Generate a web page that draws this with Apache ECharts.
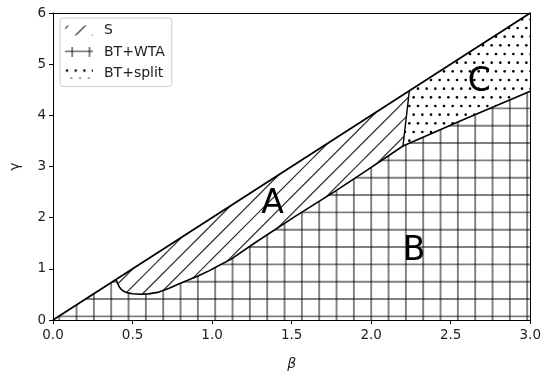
<!DOCTYPE html>
<html><head><meta charset="utf-8">
<script src="https://cdn.jsdelivr.net/npm/echarts@6/dist/echarts.min.js"></script>
<style>html,body{margin:0;padding:0;background:#fff}#c{width:544px;height:376px}</style>
</head><body><div id="c"></div>
<script>
// ---- data ----
const diagBeta = [0, 3];
const diagGamma = [0, 6];
const curveBeta  = [0.396, 0.403, 0.410, 0.417, 0.430, 0.448, 0.470, 0.500, 0.550, 0.600, 0.666, 0.730, 0.790, 0.850, 0.915, 0.980, 1.040, 1.120, 1.270, 1.520, 1.765, 1.970, 2.200, 2.574, 3.000];
const curveGamma = [0.792, 0.740, 0.690, 0.645, 0.595, 0.557, 0.530, 0.512, 0.503, 0.510, 0.545, 0.620, 0.705, 0.780, 0.865, 0.960, 1.060, 1.190, 1.510, 2.020, 2.500, 2.920, 3.400, 3.910, 4.470];
const splitEdgeBeta  = [2.240, 2.200];
const splitEdgeGamma = [4.480, 3.400];
const regionNames = ['S', 'BT+WTA', 'BT+split'];
const regionLetters = ['A', 'B', 'C'];
const letterBeta  = [1.38, 2.27, 2.68];
const letterGamma = [2.26, 1.35, 4.65];
const xTickStep = 0.5, yTickStep = 1;

// ---- polygons built from the arrays ----
const curvePts = curveBeta.map((b, i) => [b, curveGamma[i]]);
const splitIdx = curveBeta.indexOf(splitEdgeBeta[1]);
const polyA = [[curveBeta[0], curveGamma[0]], [splitEdgeBeta[0], splitEdgeGamma[0]], [splitEdgeBeta[1], splitEdgeGamma[1]]]
  .concat(curvePts.slice(0, splitIdx).reverse());
const polyB = [[diagBeta[0], diagGamma[0]]].concat(curvePts).concat([[diagBeta[1], 0]]);
const polyC = [[splitEdgeBeta[0], splitEdgeGamma[0]], [diagBeta[1], diagGamma[1]]]
  .concat(curvePts.slice(splitIdx).reverse());
const polys = [polyA, polyB, polyC];

// ---- hatch patterns ----
const S = 52 / 3;
function tile(draw) { const c = document.createElement('canvas'); c.width = 52; c.height = 52; const g = c.getContext('2d'); draw(g); return c; }
const slashTile = tile(g => {
  g.strokeStyle = 'rgba(0,0,0,0.85)'; g.lineWidth = 1.2;
  for (let k = -2; k < 8; k++) { const c = 3 + k * S; g.beginPath(); g.moveTo(c + 10, -10); g.lineTo(c - 62, 62); g.stroke(); }
});
const gridTile = tile(g => {
  g.strokeStyle = 'rgba(0,0,0,0.5)'; g.lineWidth = 1.9;
  for (let k = 0; k < 3; k++) { const x = 7.2 + k * S; g.beginPath(); g.moveTo(x, 0); g.lineTo(x, 52); g.stroke(); }
  for (let k = 0; k < 3; k++) { const y = 4.4 + k * S; g.beginPath(); g.moveTo(0, y); g.lineTo(52, y); g.stroke(); }
});
const dotTile = tile(g => {
  g.fillStyle = '#000';
  for (let r = 0; r < 6; r++) for (let c = -1; c < 7; c++) {
    const x = 2 + c * S / 2 + (r % 2 ? S / 4 : 0), y = 2 + r * S / 2;
    g.beginPath(); g.arc(x, y, 1.3, 0, Math.PI * 2); g.fill();
  }
});
const pats = [slashTile, gridTile, dotTile].map(im => ({ image: im, repeat: 'repeat' }));

const FONT = 'DejaVu Sans';
const chart = echarts.init(document.getElementById('c'), null, { renderer: 'canvas' });

const regionSeries = polys.map((poly, i) => ({
  type: 'custom', name: regionNames[i], data: [[0, 0]], z: 2,
  renderItem: (params, api) => ({
    type: 'polygon',
    shape: { points: poly.map(p => api.coord(p)) },
    style: { fill: pats[i], stroke: null }
  })
}));

chart.setOption({
  animation: false,
  grid: { left: 53, right: 9, top: 13, bottom: 51 },
  xAxis: [{
    type: 'value', min: 0, max: 3, interval: xTickStep, z: 10,
    axisLine: { show: true, lineStyle: { color: '#000', width: 1 } },
    axisTick: { show: true, length: 4, lineStyle: { color: '#000' } },
    axisLabel: { color: '#222', fontFamily: FONT, fontSize: 13.5, margin: 8, formatter: v => v.toFixed(1) },
    splitLine: { show: false },
    name: 'β', nameLocation: 'middle', nameGap: 37,
    nameTextStyle: { fontFamily: FONT, fontStyle: 'italic', fontSize: 14, color: '#222' }
  }, {
    type: 'value', min: 0, max: 3, position: 'top', z: 10,
    axisLine: { show: true, onZero: false, lineStyle: { color: '#000', width: 1 } },
    axisTick: { show: false }, axisLabel: { show: false }, splitLine: { show: false }
  }],
  yAxis: [{
    type: 'value', min: 0, max: 6, interval: yTickStep, z: 10,
    axisLine: { show: true, lineStyle: { color: '#000', width: 1 } },
    axisTick: { show: true, length: 4, lineStyle: { color: '#000' } },
    axisLabel: { color: '#222', fontFamily: FONT, fontSize: 13.5, margin: 7 },
    splitLine: { show: false },
    name: 'γ', nameLocation: 'middle', nameGap: 31,
    nameTextStyle: { fontFamily: FONT, fontSize: 14, color: '#222' }
  }, {
    type: 'value', min: 0, max: 6, position: 'right', z: 10,
    axisLine: { show: true, onZero: false, lineStyle: { color: '#000', width: 1 } },
    axisTick: { show: false }, axisLabel: { show: false }, splitLine: { show: false }
  }],
  legend: {
    left: 60, top: 18, orient: 'vertical',
    padding: [4.5, 7, 5, 5], itemGap: 5.5, itemWidth: 28, itemHeight: 10,
    backgroundColor: 'rgba(255,255,255,0.8)', borderColor: '#ccc', borderWidth: 1, borderRadius: 3,
    textStyle: { fontFamily: FONT, fontSize: 14, color: '#222', lineHeight: 16, padding: [0, 0, 0, 6] },
    data: regionNames.map((n, i) => ({ name: n, icon: 'rect', itemStyle: { color: pats[i], borderWidth: 0 } }))
  },
  series: regionSeries.concat([
    { type: 'line', name: 'diag', data: diagBeta.map((b, i) => [b, diagGamma[i]]), showSymbol: false, z: 5,
      lineStyle: { color: '#000', width: 1.8 } },
    { type: 'line', name: 'curve', data: curvePts, showSymbol: false, z: 5,
      lineStyle: { color: '#000', width: 1.6 } },
    { type: 'line', name: 'edge', data: splitEdgeBeta.map((b, i) => [b, splitEdgeGamma[i]]), showSymbol: false, z: 5,
      lineStyle: { color: '#000', width: 1.4 } },
    { type: 'custom', name: 'letters', data: regionLetters.map((t, i) => [letterBeta[i], letterGamma[i]]), z: 6,
      renderItem: (params, api) => {
        const p = api.coord([api.value(0), api.value(1)]);
        return { type: 'text', x: p[0], y: p[1],
          style: { text: regionLetters[params.dataIndex], fontFamily: FONT, fontSize: 33, fill: '#000', align: 'center', verticalAlign: 'middle' } };
      } }
  ])
});
</script>
</body></html>
